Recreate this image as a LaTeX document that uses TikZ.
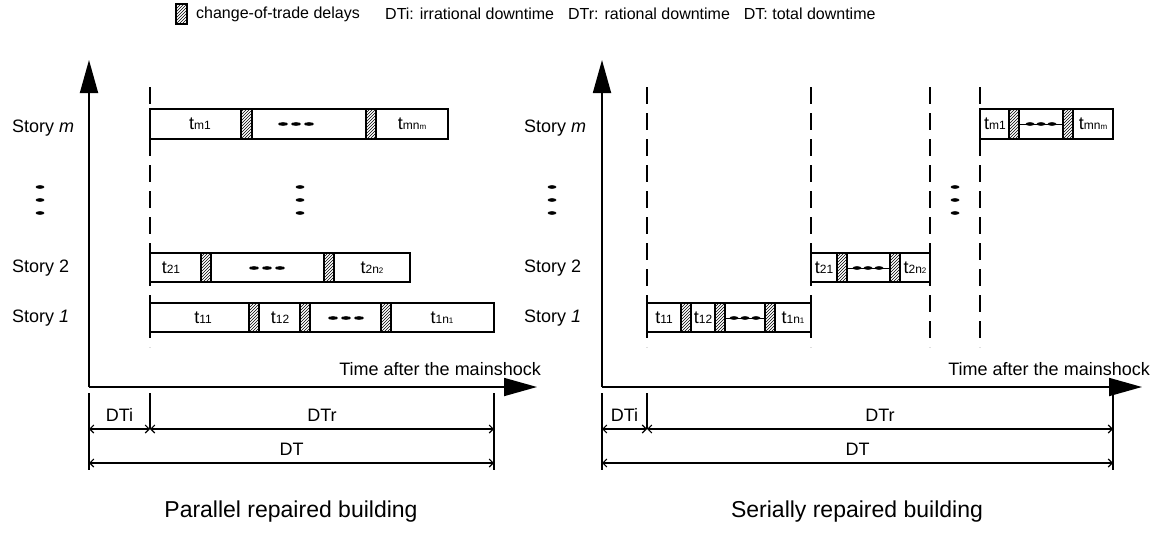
\documentclass[tikz,border=0pt]{standalone}
\usepackage{fontspec}
\setmainfont{Liberation Sans}
\usetikzlibrary{arrows.meta,patterns}
\newcommand\tl[2]{t{\fontsize{12}{12}\selectfont #1{\fontsize{8}{8}\selectfont #2}}}

\begin{document}
\begin{tikzpicture}[x=1pt,y=-1pt,
  lab/.style={inner sep=0pt,font=\fontsize{18}{21}\selectfont},
  leg/.style={inner sep=0pt,font=\fontsize{16}{19}\selectfont},
  ttl/.style={inner sep=0pt,font=\fontsize{23}{27}\selectfont},
  bar/.style={draw,line width=1.2pt,fill=white},
  hatch/.style={draw,line width=1.2pt,pattern=north east lines},
  guide/.style={line width=1.2pt,dash pattern=on 17pt off 9pt},
  axis/.style={line width=1.8pt,-{Triangle[length=33pt,width=18pt]}},
  dim/.style={line width=1.1pt,{Straight Barb[length=4pt,width=8pt]}-{Straight Barb[length=4pt,width=8pt]}},
  ext/.style={line width=1.1pt}]
\useasboundingbox (0,0) rectangle (1152,533);

% legend
\draw[hatch] (176,4) rectangle (187,24);
\node[leg,anchor=west] (leg) at (196,14) {change-of-trade delays};
\node[leg,anchor=west] (legd) at (385,14)
  {DTi: irrational downtime\hspace{14pt}DTr: rational downtime\hspace{14pt}DT: total downtime};

% parallel
\coordinate (oL) at (89,387);
\coordinate (yL) at (89,60);
\coordinate (xL) at (537,387);
\draw[axis] (oL) -- (yL);
\draw[axis] (oL) -- (xL);
\draw[guide] (150,87) -- (150,347);
\node[lab,anchor=west] (smL) at (12,128) {Story \textit{m}};
\node[lab,anchor=west] (s2L) at (12,268) {Story 2};
\node[lab,anchor=west] (s1L) at (12,318) {Story \textit{1}};
\draw[bar] (150,109) rectangle (448,139);
\draw[hatch] (241,109) rectangle (252,139);
\draw[hatch] (366,109) rectangle (376,139);
\node[lab] (tm1L) at (200,124) {\tl{m1}{}};
\node[lab] (tmnL) at (412,124) {\tl{mn}{m}};
\draw[bar] (150,253) rectangle (410,282);
\draw[hatch] (201,253) rectangle (211,282);
\draw[hatch] (324,253) rectangle (334,282);
\node[lab] (t21L) at (171,268) {\tl{21}{}};
\node[lab] (t2nL) at (372,268) {\tl{2n}{2}};
\draw[bar] (150,303) rectangle (494,332);
\draw[hatch] (249,303) rectangle (259,332);
\draw[hatch] (300,303) rectangle (310,332);
\draw[hatch] (381,303) rectangle (391,332);
\node[lab] (t11L) at (203,318) {\tl{11}{}};
\node[lab] (t12L) at (280,318) {\tl{12}{}};
\node[lab] (t1nL) at (442,318) {\tl{1n}{1}};
\node[lab,anchor=base east] (timeL) at (541,375) {Time after the mainshock};
\coordinate (aL) at (89,429);
\coordinate (bL) at (150,429);
\coordinate (cL) at (494,429);
\coordinate (dL) at (89,463);
\coordinate (eL) at (494,463);
\draw[ext] (89,393) -- (89,470);
\draw[ext,line width=1.6pt] (150,393) -- (bL);
\draw[ext] (494,393) -- (494,470);
\draw[dim] (aL) -- (bL) node[lab,midway,above=7pt] (dtiL) {DTi};
\draw[dim] (bL) -- (cL) node[lab,midway,above=7pt] (dtrL) {DTr};
\draw[dim] (dL) -- (eL) node[lab,midway,above=7pt] (dtL) {DT};
\node[ttl] (titleL) at (291,512) {Parallel repaired building};

% serial
\coordinate (oR) at (602,387);
\coordinate (yR) at (602,60);
\coordinate (xR) at (1142,387);
\draw[axis] (oR) -- (yR);
\draw[axis] (oR) -- (xR);
\foreach \x in {647,811,930,980}
  \draw[guide] (\x,87) -- (\x,347);
\node[lab,anchor=west] (smR) at (524,128) {Story \textit{m}};
\node[lab,anchor=west] (s2R) at (524,268) {Story 2};
\node[lab,anchor=west] (s1R) at (524,318) {Story \textit{1}};
\draw[bar] (980,109) rectangle (1113,139);
\draw[hatch] (1009,109) rectangle (1019,139);
\draw[hatch] (1063,109) rectangle (1073,139);
\node[lab] (tm1R) at (995,124) {\tl{m1}{}};
\node[lab] (tmnR) at (1093,124) {\tl{mn}{m}};
\draw[bar] (811,253) rectangle (930,282);
\draw[hatch] (837,253) rectangle (847,282);
\draw[hatch] (890,253) rectangle (900,282);
\node[lab] (t21R) at (824,268) {\tl{21}{}};
\node[lab] (t2nR) at (915,268) {\tl{2n}{2}};
\draw[bar] (647,303) rectangle (811,332);
\draw[hatch] (681,303) rectangle (691,332);
\draw[hatch] (715,303) rectangle (725,332);
\draw[hatch] (765,303) rectangle (775,332);
\node[lab] (t11R) at (664,318) {\tl{11}{}};
\node[lab] (t12R) at (703,318) {\tl{12}{}};
\node[lab] (t1nR) at (793,318) {\tl{1n}{1}};
\draw[line width=1pt] (1019,124) -- (1063,124);
\draw[line width=1pt] (847,268) -- (890,268);
\draw[line width=1pt] (725,318) -- (765,318);
\node[lab,anchor=base east] (timeR) at (1150,375) {Time after the mainshock};
\coordinate (aR) at (602,429);
\coordinate (bR) at (647,429);
\coordinate (cR) at (1113,429);
\coordinate (dR) at (602,463);
\coordinate (eR) at (1113,463);
\draw[ext] (602,393) -- (602,470);
\draw[ext,line width=1.6pt] (647,393) -- (bR);
\draw[ext] (1113,393) -- (1113,470);
\draw[dim] (aR) -- (bR) node[lab,midway,above=7pt] (dtiR) {DTi};
\draw[dim] (bR) -- (cR) node[lab,midway,above=7pt] (dtrR) {DTr};
\draw[dim] (dR) -- (eR) node[lab,midway,above=7pt] (dtR) {DT};
\node[ttl] (titleR) at (857,512) {Serially repaired building};

% ellipsis marks
\foreach \x in {40,300,552,955}
  \foreach \y in {187,200,213}
    \fill (\x,\y) ellipse [x radius=4.5,y radius=1.8];
\foreach \x/\y in {296/124,267/268,346/318}
  \foreach \d in {-13,0,13}
    \fill (\x+\d,\y) ellipse [x radius=5,y radius=1.8];
\foreach \x/\y in {1041/124,868/268,745/318}
  \foreach \d in {-11,0,11}
    \fill (\x+\d,\y) ellipse [x radius=4.5,y radius=1.8];
\end{tikzpicture}
\end{document}
